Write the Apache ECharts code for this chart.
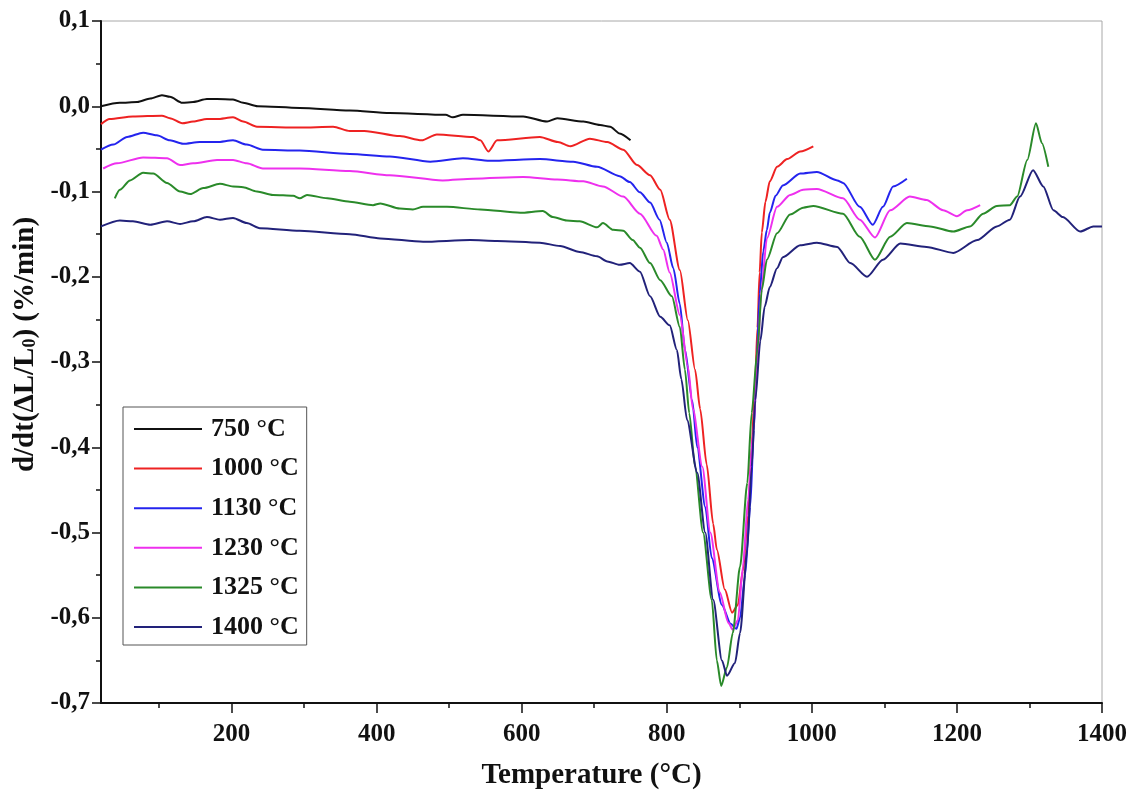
<!DOCTYPE html>
<html>
<head>
<meta charset="utf-8">
<script src="https://cdn.jsdelivr.net/npm/echarts@6/dist/echarts.min.js"></script>
<style>
html,body{margin:0;padding:0;background:#fff;}
#chart{width:1136px;height:796px;}
</style>
</head>
<body>
<div id="chart"></div>
<script>
// ---- data (temperature °C, d/dt(ΔL/L0) %/min) ----
const seriesNames = ['750 °C', '1000 °C', '1130 °C', '1230 °C', '1325 °C', '1400 °C'];

const t750 = [[20,0.000],[46,0.004],[70,0.005],[88,0.009],[104,0.013],[115,0.011],[132,0.004],[147,0.005],[166,0.0085],[180,0.0085],[202,0.008],[216,0.004],[236,0.000],[294,-0.002],[363,-0.005],[418,-0.008],[495,-0.010],[505,-0.013],[519,-0.010],[602,-0.012],[635,-0.018],[649,-0.014],[685,-0.018],[708,-0.022],[722,-0.024],[735,-0.032],[750,-0.040]];

const t1000 = [[20,-0.021],[32,-0.015],[64,-0.012],[104,-0.011],[115,-0.014],[132,-0.020],[147,-0.018],[166,-0.015],[180,-0.015],[202,-0.013],[216,-0.018],[235,-0.024],[294,-0.025],[340,-0.024],[363,-0.029],[383,-0.029],[432,-0.035],[462,-0.040],[483,-0.033],[533,-0.036],[543,-0.040],[554,-0.053],[566,-0.040],[625,-0.036],[650,-0.042],[667,-0.047],[694,-0.038],[718,-0.042],[740,-0.051],[759,-0.069],[777,-0.081],[791,-0.098],[804,-0.133],[818,-0.192],[829,-0.251],[839,-0.309],[846,-0.355],[855,-0.420],[864,-0.490],[869,-0.520],[880,-0.567],[890,-0.594],[898,-0.585],[905,-0.545],[912,-0.480],[917,-0.400],[922,-0.320],[925,-0.260],[928,-0.195],[931,-0.148],[936,-0.112],[942,-0.088],[952,-0.071],[966,-0.062],[984,-0.053],[1002,-0.047]];

const t1130 = [[20,-0.051],[37,-0.045],[56,-0.036],[78,-0.031],[97,-0.034],[115,-0.040],[133,-0.044],[156,-0.042],[180,-0.042],[202,-0.040],[221,-0.045],[243,-0.051],[294,-0.052],[363,-0.056],[418,-0.059],[474,-0.065],[519,-0.061],[556,-0.064],[625,-0.062],[671,-0.065],[704,-0.071],[735,-0.082],[749,-0.089],[763,-0.101],[777,-0.113],[790,-0.133],[800,-0.160],[809,-0.190],[818,-0.232],[825,-0.285],[835,-0.345],[842,-0.400],[853,-0.470],[862,-0.530],[876,-0.585],[888,-0.607],[896,-0.613],[901,-0.600],[908,-0.550],[915,-0.470],[920,-0.380],[924,-0.300],[928,-0.220],[933,-0.170],[938,-0.145],[942,-0.125],[950,-0.105],[960,-0.093],[984,-0.079],[1007,-0.077],[1035,-0.087],[1043,-0.090],[1066,-0.118],[1084,-0.139],[1098,-0.118],[1112,-0.094],[1131,-0.085]];

const t1230 = [[23,-0.073],[42,-0.067],[78,-0.060],[111,-0.061],[129,-0.069],[147,-0.067],[180,-0.063],[202,-0.063],[221,-0.067],[243,-0.073],[294,-0.073],[363,-0.076],[418,-0.081],[491,-0.087],[533,-0.085],[602,-0.083],[649,-0.086],[685,-0.088],[712,-0.094],[740,-0.106],[763,-0.126],[786,-0.152],[795,-0.168],[804,-0.195],[818,-0.245],[829,-0.305],[836,-0.355],[849,-0.423],[860,-0.500],[873,-0.570],[885,-0.606],[891,-0.614],[898,-0.603],[905,-0.540],[912,-0.462],[919,-0.384],[925,-0.300],[930,-0.220],[938,-0.155],[952,-0.118],[970,-0.104],[988,-0.098],[1007,-0.097],[1043,-0.108],[1066,-0.133],[1087,-0.154],[1108,-0.122],[1135,-0.106],[1158,-0.110],[1181,-0.122],[1200,-0.129],[1214,-0.122],[1232,-0.116]];

const t1325 = [[39,-0.108],[46,-0.098],[60,-0.087],[78,-0.078],[92,-0.079],[111,-0.090],[129,-0.100],[143,-0.103],[161,-0.096],[184,-0.091],[202,-0.094],[216,-0.095],[235,-0.100],[257,-0.104],[285,-0.105],[294,-0.108],[304,-0.104],[332,-0.108],[363,-0.112],[395,-0.116],[405,-0.114],[432,-0.120],[450,-0.121],[464,-0.118],[497,-0.118],[543,-0.121],[598,-0.125],[629,-0.123],[643,-0.130],[662,-0.134],[680,-0.135],[704,-0.142],[712,-0.137],[726,-0.145],[740,-0.146],[753,-0.157],[763,-0.166],[777,-0.184],[791,-0.204],[807,-0.223],[818,-0.259],[825,-0.309],[831,-0.360],[839,-0.423],[850,-0.500],[862,-0.579],[869,-0.650],[875,-0.680],[883,-0.658],[891,-0.618],[901,-0.540],[911,-0.442],[917,-0.360],[925,-0.285],[931,-0.215],[938,-0.180],[952,-0.149],[970,-0.127],[988,-0.119],[1002,-0.117],[1043,-0.126],[1066,-0.153],[1087,-0.180],[1108,-0.153],[1131,-0.137],[1163,-0.141],[1195,-0.147],[1218,-0.141],[1236,-0.126],[1255,-0.117],[1273,-0.116],[1283,-0.106],[1297,-0.063],[1309,-0.020],[1317,-0.043],[1326,-0.071]];

const t1400 = [[20,-0.141],[46,-0.134],[64,-0.135],[88,-0.139],[111,-0.135],[129,-0.138],[147,-0.135],[166,-0.130],[184,-0.133],[202,-0.131],[221,-0.137],[239,-0.143],[294,-0.146],[363,-0.150],[405,-0.155],[464,-0.159],[529,-0.157],[566,-0.158],[625,-0.160],[653,-0.164],[680,-0.171],[704,-0.176],[718,-0.182],[735,-0.186],[749,-0.184],[763,-0.194],[777,-0.223],[791,-0.247],[804,-0.257],[814,-0.286],[820,-0.320],[828,-0.368],[842,-0.430],[853,-0.500],[864,-0.579],[876,-0.650],[883,-0.668],[894,-0.653],[901,-0.618],[911,-0.520],[917,-0.423],[922,-0.345],[929,-0.275],[935,-0.235],[942,-0.212],[952,-0.190],[960,-0.177],[984,-0.163],[1007,-0.160],[1035,-0.165],[1053,-0.184],[1076,-0.200],[1098,-0.180],[1122,-0.161],[1158,-0.165],[1195,-0.172],[1228,-0.157],[1255,-0.141],[1273,-0.133],[1287,-0.106],[1305,-0.075],[1319,-0.094],[1333,-0.122],[1346,-0.130],[1370,-0.147],[1388,-0.141],[1400,-0.141]];

const xMajorTicks = [200, 400, 600, 800, 1000, 1200, 1400];
const xMinorTicks = [100, 300, 500, 700, 900, 1100, 1300];

// ---- styles ----
const allData = [t750, t1000, t1130, t1230, t1325, t1400];
const colors = ['#111111', '#ee2222', '#2424ee', '#ee30ee', '#2a8a2a', '#22227a'];
const FONT = '"Liberation Serif", "Times New Roman", serif';

const chart = echarts.init(document.getElementById('chart'), null, {renderer: 'canvas'});

const series = allData.map((d, i) => ({
  name: seriesNames[i],
  type: 'line',
  data: d,
  showSymbol: false,
  symbol: 'none',
  smooth: 0.25,
  smoothMonotone: 'x',
  lineStyle: {color: colors[i], width: 2},
  itemStyle: {color: colors[i]},
  z: 3
}));

const option = {
  backgroundColor: '#ffffff',
  animation: false,
  grid: {
    left: 101, right: 34, top: 21, bottom: 93,
    show: true, borderColor: '#a8a8a8', borderWidth: 1, backgroundColor: 'transparent'
  },
  legend: {
    orient: 'vertical',
    left: 123, top: 407,
    data: seriesNames,
    itemWidth: 68, itemHeight: 14, itemGap: 9.6,
    padding: [7, 8, 3, 10],
    borderColor: '#555', borderWidth: 1,
    backgroundColor: '#fff',
    itemStyle: {opacity: 0},
    lineStyle: {width: 2},
    textStyle: {fontFamily: FONT, fontWeight: 'bold', fontSize: 26, color: '#111', lineHeight: 30, padding: [0, 0, 0, 4]}
  },
  xAxis: [
    {
      type: 'value', min: 20, max: 1400,
      name: 'Temperature (°C)', nameLocation: 'middle', nameGap: 58,
      nameTextStyle: {fontFamily: FONT, fontWeight: 'bold', fontSize: 29, color: '#111', padding: [0, 20, 0, 0]},
      axisLine: {show: true, onZero: false, lineStyle: {color: '#111', width: 2}},
      axisTick: {show: true, customValues: xMajorTicks, length: 10, lineStyle: {color: '#111', width: 1.5}},
      axisLabel: {show: true, customValues: xMajorTicks, margin: 19, fontFamily: FONT, fontWeight: 'bold', fontSize: 25, color: '#111',
        formatter: function (v) { return String(Math.round(v)); }},
      splitLine: {show: false}
    },
    {
      type: 'value', min: 20, max: 1400, position: 'bottom', gridIndex: 0,
      axisLine: {show: false, onZero: false},
      axisTick: {show: true, customValues: xMinorTicks, length: 5, lineStyle: {color: '#111', width: 1.5}},
      axisLabel: {show: false, customValues: xMinorTicks},
      splitLine: {show: false}
    }
  ],
  yAxis: {
    type: 'value', min: -0.7, max: 0.1, interval: 0.1,
    name: 'd/dt(ΔL/L{sub|0}) (%/min)', nameLocation: 'middle', nameGap: 59, nameRotate: 90,
    nameTextStyle: {
      fontFamily: FONT, fontWeight: 'bold', fontSize: 29, color: '#111', padding: [0, 0, 0, 35],
      rich: {sub: {fontFamily: FONT, fontWeight: 'bold', fontSize: 18, color: '#111', verticalAlign: 'bottom', lineHeight: 14}}
    },
    axisLine: {show: true, onZero: false, lineStyle: {color: '#111', width: 2}},
    axisTick: {show: true, length: 9, lineStyle: {color: '#111', width: 1.5}},
    minorTick: {show: true, splitNumber: 2, length: 5, lineStyle: {color: '#111', width: 1.5}},
    axisLabel: {
      margin: 11, fontFamily: FONT, fontWeight: 'bold', fontSize: 25, color: '#111',
      formatter: function (v) { const r = Math.round(v * 10) / 10; return (r === 0 ? '0.0' : r.toFixed(1)).replace('.', ','); }
    },
    splitLine: {show: false},
    minorSplitLine: {show: false}
  },
  series: series
};
chart.setOption(option);
</script>
</body>
</html>
